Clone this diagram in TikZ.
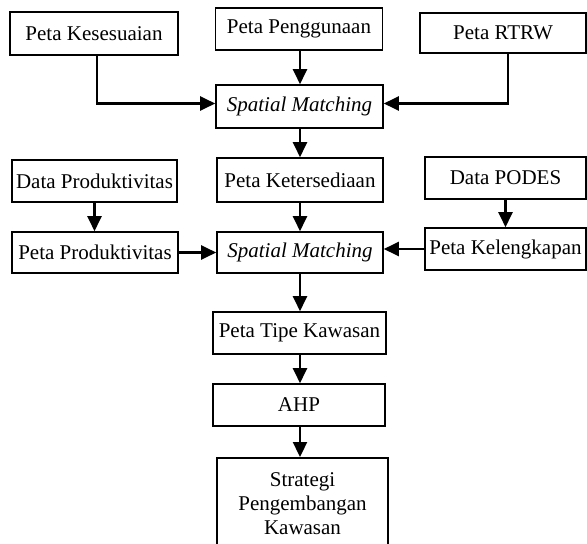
\documentclass[tikz,border=0pt]{standalone}
\usepackage{fontspec}
\setmainfont{Liberation Serif}
\usetikzlibrary{arrows.meta,calc}
\begin{document}
\begin{tikzpicture}[x=1pt,y=-1pt,
  box/.style={draw,line width=1.6pt,inner sep=0pt,align=center,font=\fontsize{21}{24}\selectfont},
  arr/.style={line width=2.3pt,-{Triangle[length=15pt,width=14pt]}}]
\useasboundingbox (0,0) rectangle (587,544);
\node[box,minimum width=168,minimum height=43] (kes) at (94,33.5) {Peta Kesesuaian};
\node[box,minimum width=167,minimum height=42] (peng) at (299,29) {Peta Penggunaan};
\node[box,minimum width=166,minimum height=40] (rtrw) at (503,33) {Peta RTRW};
\node[box,minimum width=167,minimum height=43] (sm1) at (299.5,106.5) {\itshape Spatial Matching};
\node[box,minimum width=165,minimum height=42] (dprod) at (94.5,181) {Data Produktivitas};
\node[box,minimum width=166,minimum height=44] (ket) at (300,180) {Peta Ketersediaan};
\node[box,minimum width=161,minimum height=42] (podes) at (505.5,178) {Data PODES};
\node[box,minimum width=166,minimum height=41] (pprod) at (95,252.5) {Peta Produktivitas};
\node[box,minimum width=166,minimum height=41] (sm2) at (300,252.5) {\itshape Spatial Matching};
\node[box,minimum width=161,minimum height=42] (kel) at (505.5,249) {Peta Kelengkapan};
\node[box,minimum width=173,minimum height=42] (tipe) at (299.5,333) {Peta Tipe Kawasan};
\node[box,minimum width=172,minimum height=42] (ahp) at (299,405) {AHP};
\node[box,minimum width=171,minimum height=92,anchor=north] (strat) at (302.5,457) {Strategi\\Pengembangan\\Kawasan};
\coordinate (kesout) at ($(kes.south)+(3,0)$);
\coordinate (sm1w) at ($(sm1.west)+(0,-3)$);
\coordinate (rtrwout) at ($(rtrw.south)+(5,0)$);
\coordinate (sm1e) at ($(sm1.east)+(0,-3)$);
\coordinate (c) at (300,0);
\draw[arr] (kesout) |- (sm1w);
\draw[arr] (rtrwout) |- (sm1e);
\draw[arr] (peng.south -| c) -- (sm1.north -| c);
\draw[arr] (sm1.south -| c) -- (ket.north -| c);
\draw[arr] (ket.south -| c) -- (sm2.north -| c);
\draw[arr] (sm2.south -| c) -- (tipe.north -| c);
\draw[arr] (tipe.south -| c) -- (ahp.north -| c);
\draw[arr] (ahp.south -| c) -- (strat.north -| c);
\draw[arr] (dprod.south) -- (dprod.south |- pprod.north);
\draw[arr] (podes.south) -- (podes.south |- kel.north);
\draw[arr] (pprod.east) -- (pprod.east -| sm2.west);
\draw[arr] (kel.west) -- (kel.west -| sm2.east);
\end{tikzpicture}
\end{document}
